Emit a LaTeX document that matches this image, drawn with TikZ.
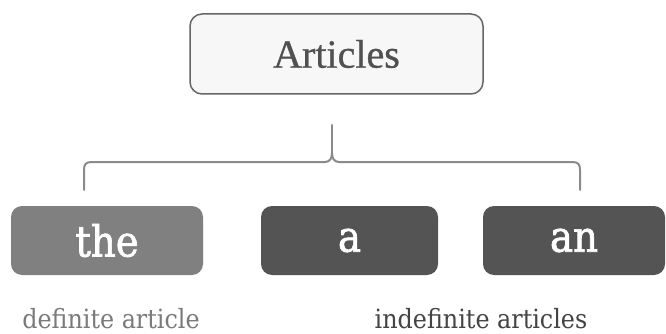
\documentclass[tikz,border=0pt]{standalone}
\usepackage{fontspec}
\setmainfont{Liberation Serif}
\newfontfamily\slab{DejaVu Serif Condensed}
\newfontfamily\slabmed[FakeBold=1.6]{DejaVu Serif Condensed}
\newfontfamily\titlefont[FakeBold=0.8]{Liberation Serif}
\definecolor{boxborder}{HTML}{666666}
\definecolor{boxfill}{HTML}{F7F7F7}
\definecolor{titletext}{HTML}{505050}
\definecolor{lightbtn}{HTML}{808080}
\definecolor{darkbtn}{HTML}{545454}
\definecolor{bracecol}{HTML}{8A8A8A}
\definecolor{deflabel}{HTML}{7A7A7A}
\definecolor{indeflabel}{HTML}{444444}
\tikzset{
  titlebox/.style={draw=boxborder, line width=1.5pt, fill=boxfill, rounded corners=12pt,
    minimum width=293pt, minimum height=80pt, inner sep=0pt,
    font=\titlefont\fontsize{40}{44}\selectfont, text=titletext},
  btn/.style={rounded corners=11pt, minimum height=69pt, inner sep=0pt,
    font=\slabmed\fontsize{43}{46}\selectfont, text=white},
  lbl/.style={font=\slab\fontsize{26.5}{28}\selectfont, anchor=base, inner sep=0pt},
  bracket/.style={draw=bracecol, line width=2pt, line cap=round}
}
\begin{document}
\begin{tikzpicture}[x=1pt,y=-1pt]
\useasboundingbox (0,0) rectangle (666,334);
\fill[white] (0,0) rectangle (666,334);
\node[titlebox] (art) at (336.5,54) {Articles};
\node[btn, fill=lightbtn, minimum width=192pt] (the) at (107,240.5) {the};
\node[btn, fill=darkbtn, minimum width=177pt] (a) at (349.5,240.5) {a};
\node[btn, fill=darkbtn, minimum width=182pt] (an) at (574,240.5) {an};
\node[lbl, text=deflabel] (def) at (111,328) {definite article};
\node[lbl, text=indeflabel] (indef) at (481,328) {indefinite articles};
% bracket
\coordinate (stemtop) at (332,125);
\coordinate (notch) at (332,153);
\coordinate (leftend) at (84,190);
\coordinate (rightend) at (580,190);
\draw[bracket] (stemtop) -- (notch);
\draw[bracket] (leftend) -- (84,170) .. controls (84,164) and (86,162) .. (92,162)
  -- (325,162) .. controls (330,162) and (332,158) .. (notch);
\draw[bracket] (rightend) -- (580,170) .. controls (580,164) and (578,162) .. (572,162)
  -- (339,162) .. controls (334,162) and (332,158) .. (notch);
\end{tikzpicture}
\end{document}
